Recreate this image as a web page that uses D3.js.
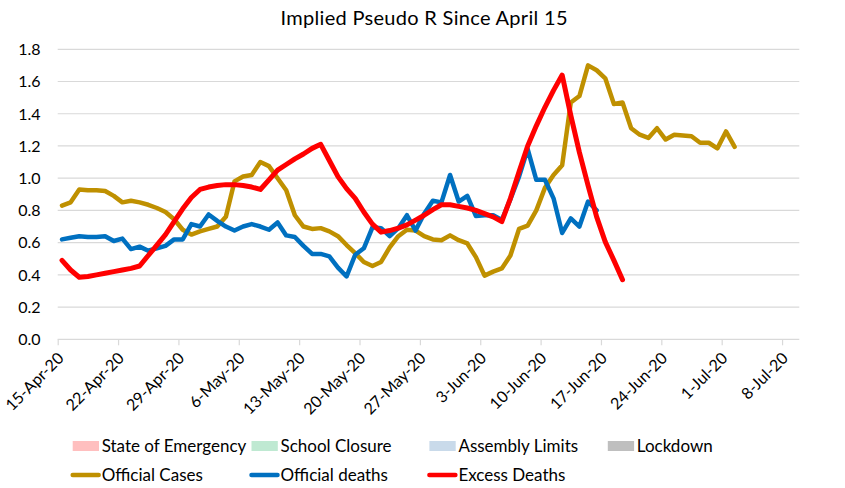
<!DOCTYPE html>
<html>
<head>
<meta charset="utf-8">
<script src="https://cdn.jsdelivr.net/npm/d3@7"></script>
<style>
  html, body { margin: 0; padding: 0; background: #fff; }
  svg { display: block; font-family: Lato, "Open Sans", sans-serif; }
</style>
</head>
<body>
<svg id="chart" width="845" height="488"></svg>
<script>
// ---- Data ----
const startDate = "2020-04-15";
const endDate = "2020-07-10";
const tickLabels = ["15-Apr-20","22-Apr-20","29-Apr-20","6-May-20","13-May-20","20-May-20","27-May-20","3-Jun-20","10-Jun-20","17-Jun-20","24-Jun-20","1-Jul-20","8-Jul-20"];
const yTicks = [0, 0.2, 0.4, 0.6, 0.8, 1.0, 1.2, 1.4, 1.6, 1.8];

const officialCases = [
  0.83,0.85,0.93,0.925,0.925,0.92,0.89,0.85,0.86,0.85,
  0.835,0.815,0.79,0.745,0.68,0.65,0.67,0.685,0.70,0.76,
  0.98,1.01,1.02,1.10,1.075,1.00,0.925,0.77,0.70,0.685,
  0.69,0.67,0.64,0.585,0.535,0.48,0.455,0.48,0.57,0.64,
  0.68,0.675,0.64,0.62,0.615,0.645,0.615,0.595,0.51,0.395,
  0.42,0.44,0.52,0.685,0.705,0.80,0.94,1.02,1.08,1.47,
  1.51,1.70,1.67,1.62,1.46,1.47,1.31,1.27,1.25,1.31,
  1.24,1.27,1.265,1.26,1.22,1.22,1.185,1.29,1.195
];
const officialDeaths = [
  0.62,0.63,0.64,0.635,0.635,0.64,0.61,0.625,0.56,0.575,
  0.55,0.565,0.58,0.62,0.62,0.715,0.70,0.775,0.735,0.70,
  0.675,0.70,0.715,0.70,0.68,0.725,0.645,0.635,0.58,0.53,
  0.53,0.515,0.445,0.39,0.525,0.565,0.695,0.69,0.64,0.69,
  0.77,0.675,0.78,0.86,0.85,1.02,0.855,0.89,0.765,0.77,
  0.77,0.74,0.87,1.01,1.18,0.99,0.99,0.875,0.66,0.75,
  0.70,0.855,0.80
];
const excessDeaths = [
  0.49,0.43,0.385,0.39,0.40,0.41,0.42,0.43,0.44,0.455,
  0.52,0.585,0.65,0.73,0.81,0.88,0.93,0.945,0.955,0.96,
  0.96,0.955,0.945,0.93,0.99,1.05,1.085,1.12,1.15,1.185,
  1.21,1.11,1.01,0.935,0.875,0.79,0.715,0.665,0.675,0.69,
  0.71,0.74,0.77,0.805,0.835,0.835,0.825,0.815,0.80,0.78,
  0.76,0.73,0.875,1.04,1.20,1.325,1.44,1.545,1.64,1.39,
  1.16,0.955,0.76,0.605,0.49,0.37
];

const seriesNames = ["Official Cases", "Official deaths", "Excess Deaths"];
const seriesColors = ["#BF9000", "#0070C0", "#FF0000"];
const areaLegendNames = ["State of Emergency", "School Closure", "Assembly Limits", "Lockdown"];
const areaLegendColors = ["#FFBFBF", "#BFE9D2", "#C9DAEA", "#BFBFBF"];
const titleText = "Implied Pseudo R Since April 15";

// ---- Layout ----
const svg = d3.select("#chart");
const parse = d3.timeParse("%Y-%m-%d");
const d0 = parse(startDate), d1 = parse(endDate);
const x = d3.scaleTime().domain([d0, d1]).range([57.7, 799.3]);
const y = d3.scaleLinear().domain([0, 1.8]).range([339.3, 49.3]);
const gridColor = "#D9D9D9";

// gridlines
svg.append("g").selectAll("line").data(yTicks).join("line")
  .attr("x1", x.range()[0]).attr("x2", x.range()[1])
  .attr("y1", d => y(d)).attr("y2", d => y(d))
  .attr("stroke", gridColor).attr("stroke-width", 1.2);

// y labels
svg.append("g").selectAll("text").data(yTicks).join("text")
  .attr("x", 40.5).attr("y", d => y(d)).attr("dy", "0.36em")
  .attr("text-anchor", "end").attr("font-size", 16).attr("fill", "#000")
  .text(d => d.toFixed(1));

// x axis ticks + labels
const tickDates = tickLabels.map((_, i) => d3.timeDay.offset(d0, 7 * i));
const xAxis = d3.axisBottom(x).tickValues(tickDates).tickSize(6).tickFormat((d, i) => tickLabels[i]);
const gx = svg.append("g").attr("transform", `translate(0,${y(0)})`).call(xAxis);
gx.select(".domain").remove();
gx.selectAll(".tick line").attr("stroke", gridColor).attr("stroke-width", 1.2);
gx.selectAll(".tick text")
  .attr("font-size", 16).attr("fill", "#000").attr("font-family", "Lato, sans-serif")
  .attr("text-anchor", "end").attr("dy", null).attr("y", null)
  .attr("transform", "translate(6.5,20) rotate(-45)");

// lines
const allSeries = [officialCases, officialDeaths, excessDeaths];
const line = d3.line()
  .x((d, i) => x(d3.timeHour.offset(d3.timeDay.offset(d0, i), 12)))
  .y(d => y(d));
const widths = [4.5, 4.5, 5];
svg.append("g").selectAll("path").data(allSeries).join("path")
  .attr("d", line).attr("fill", "none")
  .attr("stroke", (d, i) => seriesColors[i])
  .attr("stroke-width", (d, i) => widths[i])
  .attr("stroke-linejoin", "round").attr("stroke-linecap", "round");

// title
const title = svg.append("text").attr("x", 424).attr("y", 25)
  .attr("text-anchor", "middle").attr("font-size", 20).attr("fill", "#000")
  .text(titleText);
const tl = title.node().getComputedTextLength();
if (Math.abs(tl - 287) > 2) title.attr("textLength", 287).attr("lengthAdjust", "spacing");

// legend
const colX = [101.7, 280.5, 458.4, 636.8];
const lg = svg.append("g").attr("font-size", 17).attr("fill", "#000");
const row1 = lg.selectAll("g.r1").data(areaLegendNames).join("g").attr("class", "r1");
row1.append("rect").attr("x", (d, i) => colX[i] - 29).attr("y", 441)
  .attr("width", 26.3).attr("height", 10).attr("fill", (d, i) => areaLegendColors[i]);
row1.append("text").attr("x", (d, i) => colX[i]).attr("y", 451.7).text(d => d);
const row2 = lg.selectAll("g.r2").data(seriesNames).join("g").attr("class", "r2");
row2.append("line").attr("x1", (d, i) => colX[i] - 29).attr("x2", (d, i) => colX[i] - 3)
  .attr("y1", 475).attr("y2", 475)
  .attr("stroke", (d, i) => seriesColors[i]).attr("stroke-width", 4.5).attr("stroke-linecap", "round");
row2.append("text").attr("x", (d, i) => colX[i]).attr("y", 481).text(d => d);
</script>
</body>
</html>
